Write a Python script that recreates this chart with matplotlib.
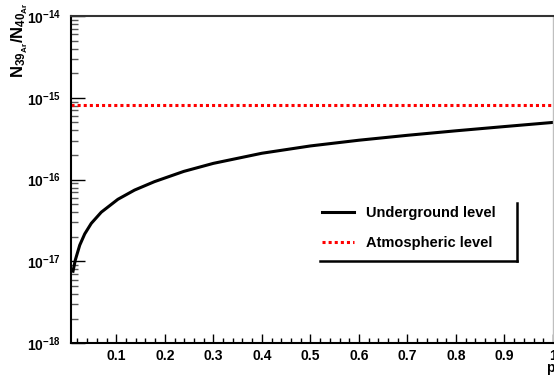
from matplotlib import pyplot as plt
import matplotlib.ticker as ticker
import numpy as np

# values
p = [0.0108, 0.0155, 0.0246, 0.0349, 0.0484, 0.069, 0.1033, 0.1376, 0.1787,
     0.239, 0.3, 0.4, 0.5, 0.6, 0.7, 0.8, 0.9, 1.0]
underground = [7.6e-18, 1.04e-17, 1.58e-17, 2.17e-17, 2.92e-17, 4.0e-17, 5.75e-17,
               7.45e-17, 9.45e-17, 1.26e-16, 1.58e-16, 2.1e-16, 2.58e-16, 3.03e-16,
               3.48e-16, 3.95e-16, 4.45e-16, 5.0e-16]
atmospheric = 8.1e-16
x_ticks = [0.1, 0.2, 0.3, 0.4, 0.5, 0.6, 0.7, 0.8, 0.9, 1.0]
x_tick_labels = ['0.1', '0.2', '0.3', '0.4', '0.5', '0.6', '0.7', '0.8', '0.9', '1']
y_ticks = [1e-18, 1e-17, 1e-16, 1e-15, 1e-14]
y_tick_labels = [r'$\mathbf{10^{-18}}$', r'$\mathbf{10^{-17}}$', r'$\mathbf{10^{-16}}$',
                 r'$\mathbf{10^{-15}}$', r'$\mathbf{10^{-14}}$']

plt.rcParams['font.family'] = ['Liberation Sans', 'DejaVu Sans']
plt.rcParams['font.weight'] = 'bold'
plt.rcParams['mathtext.fontset'] = 'custom'
plt.rcParams['mathtext.rm'] = 'Liberation Sans:bold'
plt.rcParams['mathtext.bf'] = 'Liberation Sans:bold'
plt.rcParams['mathtext.it'] = 'Liberation Sans:bold'

fig = plt.figure(figsize=(5.54, 3.75), dpi=100)
ax = fig.add_axes([0.1276, 0.0845, 0.8706, 0.873])

ax.plot(p, underground, color='black', lw=2.2, label='Underground level')
ax.plot([0.006, 1.0], [atmospheric, atmospheric], color='red', lw=2.2,
        linestyle=(0, (1, 1)), label='Atmospheric level')

ax.set_yscale('log')
ax.set_xlim(0.006, 1.0)
ax.set_ylim(1e-18, 1e-14)

ax.set_xticks(x_ticks)
ax.set_xticklabels(x_tick_labels)
ax.xaxis.set_minor_locator(ticker.MultipleLocator(0.02))
ax.set_yticks(y_ticks)
ax.set_yticklabels(y_tick_labels)
ax.yaxis.set_minor_locator(ticker.LogLocator(base=10, subs=np.arange(2, 10)))
ax.yaxis.set_minor_formatter(ticker.NullFormatter())

ax.tick_params(axis='x', which='major', direction='in', length=6.5, width=1,
               labelsize=10, pad=4)
ax.tick_params(axis='x', which='minor', direction='in', length=3.5, width=1)
ax.tick_params(axis='y', which='major', direction='in', length=10, width=1,
               labelsize=10, pad=7)
ax.tick_params(axis='y', which='minor', direction='in', length=5, width=1,
               color='0.35')

ax.spines['left'].set_linewidth(1.5)
ax.spines['bottom'].set_linewidth(1.5)
ax.spines['top'].set_linewidth(1.5)
ax.spines['top'].set_color('0.2')
ax.spines['right'].set_linewidth(1)
ax.spines['right'].set_color('0.75')

leg = ax.legend(loc='upper left', bbox_to_anchor=(0.521, 0.418), frameon=False,
                fontsize=10.5, handlelength=2.2, handletextpad=0.85,
                labelspacing=1.05, borderpad=0, borderaxespad=0)
# ROOT-style legend shadow
ax.plot([0.517, 0.925], [0.252, 0.252], color='black', lw=1.8,
        transform=ax.transAxes, clip_on=False)
ax.plot([0.925, 0.925], [0.252, 0.429], color='black', lw=1.8,
        transform=ax.transAxes, clip_on=False)

fig.text(20 / 554, 1 - 2 / 375, r'$\mathbf{N_{39_{Ar}}/N_{40_{Ar}}}$',
         rotation=90, ha='center', va='top', fontsize=12)
fig.text(550 / 554, 1 - 368 / 375, 'p', ha='center', va='center',
         fontsize=10, fontweight='bold')

plt.savefig('out.png', dpi=100)
